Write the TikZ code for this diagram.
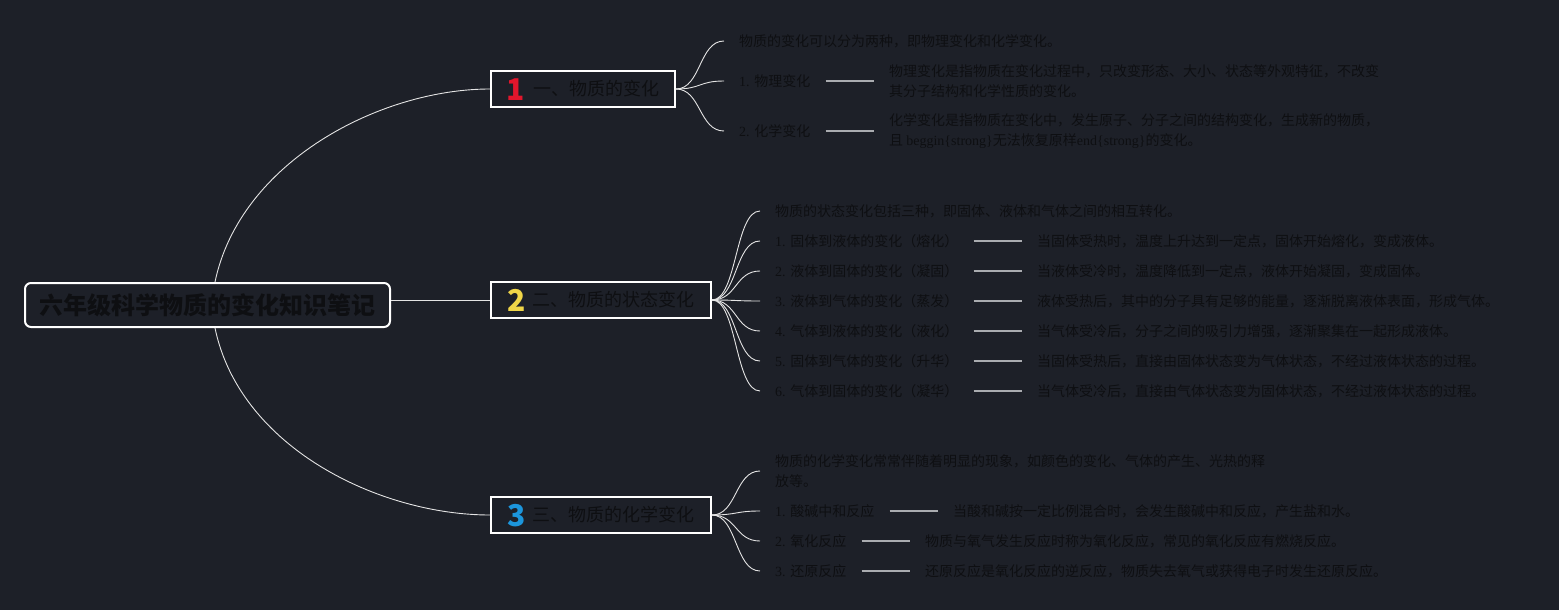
\documentclass[tikz,border=0pt]{standalone}
\usepackage{fontspec}
\setmainfont{Noto Sans CJK SC}
\newfontfamily\lat{Liberation Serif}
\definecolor{bg}{RGB}{29,32,40}
\definecolor{ink}{RGB}{14,15,18}
\definecolor{numred}{RGB}{226,22,44}
\definecolor{numyel}{RGB}{240,214,72}
\definecolor{numblu}{RGB}{28,150,220}
\definecolor{wire}{RGB}{228,228,228}
\definecolor{linkgray}{RGB}{170,172,176}
\newcommand{\bignum}[2]{\smash{\raisebox{-4.5pt}{\bfseries\fontsize{30}{30}\selectfont\color{#1}#2}}}
\begin{document}
\begin{tikzpicture}[x=1pt,y=-1pt,
  rootbox/.style={draw=white, line width=2pt, rounded corners=6pt, fill=bg, text=ink,
    font=\fontsize{24}{28}\selectfont\bfseries, minimum width=365pt, minimum height=44pt, inner sep=0pt},
  topic/.style={draw=white, line width=2pt, fill=bg, text=ink, anchor=west,
    font=\fontsize{18}{22}\selectfont, minimum height=36pt, inner sep=0pt},
  leaf/.style={anchor=west, text=ink, font=\fontsize{14}{20}\selectfont,
    inner xsep=15pt, inner ysep=2pt, align=left},
  wirestyle/.style={draw=wire, line width=0.9pt},
  linkstyle/.style={draw=linkgray, line width=1.6pt}
]
\fill[bg] (0,0) rectangle (1559,610);
\useasboundingbox (0,0) rectangle (1559,610);

% root
\node[rootbox] (root) at (207.5,305) {六年级科学物质的变化知识笔记};

% topics
\node[topic, minimum width=184pt] (b1) at (490,89)
  {\bignum{numred}{1}\hspace{8pt}一、物质的变化};
\node[topic, minimum width=220pt] (b2) at (490,300)
  {\bignum{numyel}{2}\hspace{7pt}二、物质的状态变化};
\node[topic, minimum width=220pt] (b3) at (490,515)
  {\bignum{numblu}{3}\hspace{7pt}三、物质的化学变化};

\draw[wirestyle] ([xshift=7.5pt]root.north) .. controls +(25,-120) and +(-110,0) .. (b1.west);
\draw[wirestyle] (root.east |- b2.west) -- (b2.west);
\draw[wirestyle] ([xshift=7.5pt]root.south) .. controls +(25,120) and +(-110,0) .. (b3.west);

% branch 1
\node[leaf] (l10) at (724,41) {物质的变化可以分为两种，即物理变化和化学变化。};
\node[leaf] (l11) at (724,81) {{\lat 1. }物理变化};
\node[leaf] (d11) at (874,81) {物理变化是指物质在变化过程中，只改变形态、大小、状态等外观特征，不改变\\其分子结构和化学性质的变化。};
\node[leaf] (l12) at (724,131) {{\lat 2. }化学变化};
\node[leaf] (d12) at (874,131) {化学变化是指物质在变化中，发生原子、分子之间的结构变化，生成新的物质，\\且 {\lat beggin\{strong\}}无法恢复原样{\lat end\{strong\}}的变化。};
\foreach \n in {l10,l11,l12}
  \draw[wirestyle] (b1.east) .. controls +(25,0) and +(-25,0) .. (\n.west);
\draw[linkstyle] (l11.east) -- (d11.west);
\draw[linkstyle] (l12.east) -- (d12.west);

% branch 2
\node[leaf] (l20) at (760,211) {物质的状态变化包括三种，即固体、液体和气体之间的相互转化。};
\node[leaf] (l21) at (760,241) {{\lat 1. }固体到液体的变化（熔化）};
\node[leaf] (l22) at (760,271) {{\lat 2. }液体到固体的变化（凝固）};
\node[leaf] (l23) at (760,301) {{\lat 3. }液体到气体的变化（蒸发）};
\node[leaf] (l24) at (760,331) {{\lat 4. }气体到液体的变化（液化）};
\node[leaf] (l25) at (760,361) {{\lat 5. }固体到气体的变化（升华）};
\node[leaf] (l26) at (760,391) {{\lat 6. }气体到固体的变化（凝华）};
\node[leaf] (d21) at (1022,241) {当固体受热时，温度上升达到一定点，固体开始熔化，变成液体。};
\node[leaf] (d22) at (1022,271) {当液体受冷时，温度降低到一定点，液体开始凝固，变成固体。};
\node[leaf] (d23) at (1022,301) {液体受热后，其中的分子具有足够的能量，逐渐脱离液体表面，形成气体。};
\node[leaf] (d24) at (1022,331) {当气体受冷后，分子之间的吸引力增强，逐渐聚集在一起形成液体。};
\node[leaf] (d25) at (1022,361) {当固体受热后，直接由固体状态变为气体状态，不经过液体状态的过程。};
\node[leaf] (d26) at (1022,391) {当气体受冷后，直接由气体状态变为固体状态，不经过液体状态的过程。};
\foreach \n in {l20,l21,l22,l23,l24,l25,l26}
  \draw[wirestyle] (b2.east) .. controls +(25,0) and +(-25,0) .. (\n.west);
\foreach \i in {1,...,6}
  \draw[linkstyle] (l2\i.east) -- (d2\i.west);

% branch 3
\node[leaf] (l30) at (760,471) {物质的化学变化常常伴随着明显的现象，如颜色的变化、气体的产生、光热的释\\放等。};
\node[leaf] (l31) at (760,511) {{\lat 1. }酸碱中和反应};
\node[leaf] (l32) at (760,541) {{\lat 2. }氧化反应};
\node[leaf] (l33) at (760,571) {{\lat 3. }还原反应};
\node[leaf] (d31) at (938,511) {当酸和碱按一定比例混合时，会发生酸碱中和反应，产生盐和水。};
\node[leaf] (d32) at (910,541) {物质与氧气发生反应时称为氧化反应，常见的氧化反应有燃烧反应。};
\node[leaf] (d33) at (910,571) {还原反应是氧化反应的逆反应，物质失去氧气或获得电子时发生还原反应。};
\foreach \n in {l30,l31,l32,l33}
  \draw[wirestyle] (b3.east) .. controls +(25,0) and +(-25,0) .. (\n.west);
\foreach \i in {1,2,3}
  \draw[linkstyle] (l3\i.east) -- (d3\i.west);
\end{tikzpicture}
\end{document}
